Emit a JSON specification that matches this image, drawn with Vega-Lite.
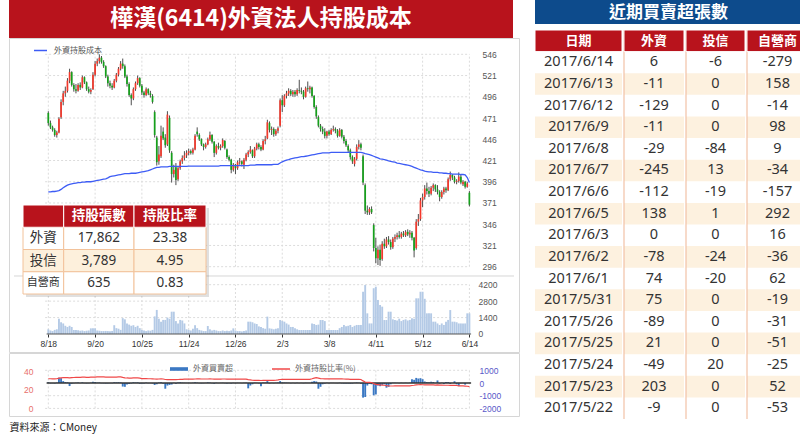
{
"$schema": "https://vega.github.io/schema/vega-lite/v6.json",
"background": "white",
"padding": {"left": 8, "top": 0, "right": 0, "bottom": 0},
"config": {"view": {"stroke": null}, "font": "Noto Sans CJK TC", "axis": {"minExtent": 0, "labelOverlap": false, "labelSeparation": 0}},
"datasets": {
"pg": [{"p":296},{"p":321},{"p":346},{"p":371},{"p":396},{"p":421},{"p":446},{"p":471},{"p":496},{"p":521},{"p":546}],
"dg": [{"i":0,"lab":"8/18"},{"i":22,"lab":"9/20"},{"i":44,"lab":"10/25"},{"i":66,"lab":"11/24"},{"i":88,"lab":"12/26"},{"i":110,"lab":"2/3"},{"i":132,"lab":"3/8"},{"i":154,"lab":"4/11"},{"i":176,"lab":"5/12"},{"i":198,"lab":"6/14"}],
"vg": [{"v":1400},{"v":2800},{"v":4200}],
"ng": [{"n":1000},{"n":-1000},{"n":-2000}],
"ins": [{"k":"外資","n":"17,862","p":"23.38"},{"k":"投信","n":"3,789","p":"4.95"},{"k":"自營商","n":"635","p":"0.83"}],
"ih": [{"k":"H","n":"持股張數","p":"持股比率"}],
"th": [{"row":"H","c0":"日期","c1":"外資","c2":"投信","c3":"自營商"}],
"tb": [
{"date":"2017/6/14","fi":6,"it":-6,"dl":-279},
{"date":"2017/6/13","fi":-11,"it":0,"dl":158},
{"date":"2017/6/12","fi":-129,"it":0,"dl":-14},
{"date":"2017/6/9","fi":-11,"it":0,"dl":98},
{"date":"2017/6/8","fi":-29,"it":-84,"dl":9},
{"date":"2017/6/7","fi":-245,"it":13,"dl":-34},
{"date":"2017/6/6","fi":-112,"it":-19,"dl":-157},
{"date":"2017/6/5","fi":138,"it":1,"dl":292},
{"date":"2017/6/3","fi":0,"it":0,"dl":16},
{"date":"2017/6/2","fi":-78,"it":-24,"dl":-36},
{"date":"2017/6/1","fi":74,"it":-20,"dl":62},
{"date":"2017/5/31","fi":75,"it":0,"dl":-19},
{"date":"2017/5/26","fi":-89,"it":0,"dl":-31},
{"date":"2017/5/25","fi":21,"it":0,"dl":-51},
{"date":"2017/5/24","fi":-49,"it":20,"dl":-25},
{"date":"2017/5/23","fi":203,"it":0,"dl":52},
{"date":"2017/5/22","fi":-9,"it":0,"dl":-53}
],
"px": [
{"i":0,"d":"8/18","o":477,"h":479,"l":462,"c":465,"v":400,"f":60,"r":31.8,"m":384},
{"i":1,"d":"8/19","o":465,"h":468,"l":458,"c":460,"v":300,"f":-30,"r":31.8,"m":384},
{"i":2,"d":"8/22","o":460,"h":462,"l":455,"c":457,"v":250,"f":-20,"r":31.7,"m":384.5},
{"i":3,"d":"8/23","o":457,"h":459,"l":449,"c":451,"v":350,"f":-40,"r":31.7,"m":384.5},
{"i":4,"d":"8/24","o":451,"h":456,"l":448,"c":454,"v":400,"f":30,"r":31.8,"m":385},
{"i":5,"d":"8/25","o":454,"h":472,"l":453,"c":470,"v":1300,"f":420,"r":32.4,"m":385.5},
{"i":6,"d":"8/26","o":472,"h":493,"l":470,"c":490,"v":1000,"f":380,"r":32.8,"m":387},
{"i":7,"d":"8/29","o":490,"h":503,"l":486,"c":500,"v":900,"f":150,"r":32.9,"m":389},
{"i":8,"d":"8/30","o":500,"h":508,"l":496,"c":503,"v":700,"f":80,"r":33,"m":390.5},
{"i":9,"d":"8/31","o":503,"h":518,"l":501,"c":515,"v":600,"f":60,"r":33,"m":392},
{"i":10,"d":"9/1","o":515,"h":529,"l":512,"c":525,"v":700,"f":-240,"r":32.7,"m":393},
{"i":11,"d":"9/2","o":525,"h":526,"l":508,"c":510,"v":600,"f":-60,"r":33,"m":393.5},
{"i":12,"d":"9/5","o":510,"h":512,"l":502,"c":505,"v":350,"f":-20,"r":33.1,"m":394},
{"i":13,"d":"9/6","o":505,"h":511,"l":500,"c":503,"v":350,"f":10,"r":33.2,"m":394.5},
{"i":14,"d":"9/7","o":503,"h":512,"l":502,"c":510,"v":320,"f":40,"r":33.3,"m":395},
{"i":15,"d":"9/8","o":510,"h":513,"l":504,"c":507,"v":280,"f":-10,"r":33.3,"m":395},
{"i":16,"d":"9/9","o":507,"h":521,"l":506,"c":519,"v":300,"f":50,"r":33.4,"m":395.5},
{"i":17,"d":"9/10","o":519,"h":520,"l":511,"c":513,"v":250,"f":-15,"r":33.4,"m":395.5},
{"i":18,"d":"9/12","o":513,"h":514,"l":503,"c":505,"v":280,"f":-30,"r":33.3,"m":396},
{"i":19,"d":"9/13","o":505,"h":508,"l":500,"c":502,"v":300,"f":-20,"r":33.3,"m":396},
{"i":20,"d":"9/14","o":502,"h":506,"l":499,"c":504,"v":480,"f":20,"r":33.4,"m":396},
{"i":21,"d":"9/19","o":505,"h":525,"l":504,"c":522,"v":480,"f":90,"r":33.5,"m":396.5},
{"i":22,"d":"9/20","o":522,"h":538,"l":520,"c":535,"v":480,"f":80,"r":33.6,"m":397},
{"i":23,"d":"9/21","o":535,"h":541,"l":532,"c":538,"v":300,"f":30,"r":33.7,"m":397.5},
{"i":24,"d":"9/22","o":538,"h":546,"l":535,"c":542,"v":280,"f":40,"r":33.8,"m":398},
{"i":25,"d":"9/23","o":542,"h":544,"l":535,"c":537,"v":250,"f":-20,"r":33.7,"m":398.5},
{"i":26,"d":"9/26","o":537,"h":539,"l":530,"c":532,"v":250,"f":-25,"r":33.7,"m":399},
{"i":27,"d":"9/29","o":532,"h":533,"l":518,"c":520,"v":260,"f":-40,"r":33.6,"m":399.5},
{"i":28,"d":"9/30","o":520,"h":522,"l":508,"c":512,"v":250,"f":-30,"r":33.5,"m":400.5},
{"i":29,"d":"10/3","o":512,"h":515,"l":506,"c":509,"v":240,"f":-10,"r":33.5,"m":402},
{"i":30,"d":"10/4","o":509,"h":512,"l":504,"c":507,"v":260,"f":-20,"r":33.4,"m":402.5},
{"i":31,"d":"10/5","o":507,"h":517,"l":506,"c":515,"v":750,"f":60,"r":33.5,"m":403},
{"i":32,"d":"10/6","o":515,"h":524,"l":513,"c":522,"v":500,"f":50,"r":33.6,"m":403.5},
{"i":33,"d":"10/7","o":522,"h":531,"l":520,"c":529,"v":450,"f":60,"r":33.7,"m":404},
{"i":34,"d":"10/11","o":529,"h":538,"l":527,"c":535,"v":350,"f":40,"r":33.8,"m":404.5},
{"i":35,"d":"10/12","o":535,"h":541,"l":529,"c":532,"v":1350,"f":-280,"r":33.2,"m":405},
{"i":36,"d":"10/13","o":532,"h":534,"l":518,"c":520,"v":1250,"f":-300,"r":32.8,"m":405.5},
{"i":37,"d":"10/14","o":520,"h":522,"l":508,"c":511,"v":900,"f":-120,"r":32.6,"m":405.5},
{"i":38,"d":"10/17","o":511,"h":513,"l":496,"c":498,"v":800,"f":-80,"r":32.5,"m":405.5},
{"i":39,"d":"10/18","o":498,"h":500,"l":486,"c":494,"v":700,"f":-40,"r":32.5,"m":406},
{"i":40,"d":"10/19","o":494,"h":507,"l":492,"c":505,"v":750,"f":60,"r":32.6,"m":406},
{"i":41,"d":"10/20","o":505,"h":514,"l":503,"c":512,"v":600,"f":40,"r":32.6,"m":406},
{"i":42,"d":"10/21","o":512,"h":521,"l":510,"c":518,"v":700,"f":50,"r":32.7,"m":406.5},
{"i":43,"d":"10/24","o":518,"h":519,"l":507,"c":509,"v":500,"f":-60,"r":32.5,"m":407},
{"i":44,"d":"10/25","o":509,"h":511,"l":498,"c":501,"v":350,"f":-40,"r":32,"m":407.5},
{"i":45,"d":"10/26","o":501,"h":503,"l":495,"c":498,"v":300,"f":-30,"r":31.9,"m":408},
{"i":46,"d":"10/27","o":498,"h":507,"l":497,"c":505,"v":250,"f":30,"r":31.9,"m":408.5},
{"i":47,"d":"10/28","o":505,"h":506,"l":498,"c":500,"v":300,"f":-20,"r":31.8,"m":409},
{"i":48,"d":"10/31","o":500,"h":503,"l":495,"c":498,"v":280,"f":-15,"r":31.8,"m":410},
{"i":49,"d":"11/1","o":497,"h":499,"l":488,"c":490,"v":350,"f":-40,"r":31.7,"m":411},
{"i":50,"d":"11/2","o":478,"h":480,"l":448,"c":451,"v":1500,"f":-150,"r":31.5,"m":412},
{"i":51,"d":"11/3","o":448,"h":450,"l":415,"c":419,"v":2050,"f":-100,"r":31.4,"m":413},
{"i":52,"d":"11/4","o":420,"h":438,"l":416,"c":428,"v":1300,"f":40,"r":31.5,"m":413},
{"i":53,"d":"11/7","o":426,"h":462,"l":424,"c":450,"v":1050,"f":60,"r":31.6,"m":413.5},
{"i":54,"d":"11/8","o":455,"h":460,"l":445,"c":447,"v":1200,"f":-50,"r":31.5,"m":413.5},
{"i":55,"d":"11/9","o":448,"h":452,"l":436,"c":439,"v":1200,"f":-450,"r":31,"m":413.5},
{"i":56,"d":"11/10","o":440,"h":479,"l":438,"c":475,"v":1400,"f":-200,"r":30.9,"m":413.5},
{"i":57,"d":"11/11","o":471,"h":474,"l":430,"c":433,"v":1300,"f":-150,"r":30.8,"m":414},
{"i":58,"d":"11/14","o":430,"h":432,"l":395,"c":405,"v":1900,"f":-120,"r":30.8,"m":414},
{"i":59,"d":"11/15","o":405,"h":416,"l":401,"c":410,"v":1900,"f":20,"r":30.9,"m":414},
{"i":60,"d":"11/16","o":413,"h":418,"l":392,"c":398,"v":1100,"f":-60,"r":30.9,"m":414},
{"i":61,"d":"11/17","o":399,"h":414,"l":397,"c":412,"v":900,"f":30,"r":31,"m":414},
{"i":62,"d":"11/18","o":412,"h":422,"l":410,"c":420,"v":1200,"f":60,"r":31.1,"m":414},
{"i":63,"d":"11/21","o":420,"h":427,"l":417,"c":424,"v":1150,"f":30,"r":31.2,"m":414},
{"i":64,"d":"11/22","o":424,"h":432,"l":421,"c":427,"v":900,"f":20,"r":31.3,"m":414},
{"i":65,"d":"11/23","o":427,"h":433,"l":424,"c":430,"v":400,"f":10,"r":31.3,"m":414},
{"i":66,"d":"11/24","o":430,"h":435,"l":427,"c":432,"v":350,"f":15,"r":31.4,"m":414.5},
{"i":67,"d":"11/25","o":432,"h":434,"l":428,"c":430,"v":300,"f":-10,"r":31.4,"m":414.5},
{"i":68,"d":"11/28","o":430,"h":436,"l":428,"c":434,"v":450,"f":20,"r":31.4,"m":414.5},
{"i":69,"d":"11/29","o":434,"h":452,"l":433,"c":450,"v":750,"f":60,"r":31.5,"m":414.5},
{"i":70,"d":"11/30","o":455,"h":460,"l":449,"c":452,"v":500,"f":30,"r":31.6,"m":414.5},
{"i":71,"d":"12/1","o":451,"h":453,"l":444,"c":446,"v":350,"f":-20,"r":31.6,"m":414.5},
{"i":72,"d":"12/2","o":446,"h":447,"l":438,"c":440,"v":300,"f":-30,"r":31.5,"m":414.5},
{"i":73,"d":"12/5","o":440,"h":441,"l":433,"c":437,"v":250,"f":-20,"r":31.5,"m":414.5},
{"i":74,"d":"12/6","o":437,"h":442,"l":435,"c":440,"v":250,"f":10,"r":31.5,"m":414.5},
{"i":75,"d":"12/7","o":440,"h":448,"l":439,"c":446,"v":680,"f":50,"r":31.5,"m":414.5},
{"i":76,"d":"12/8","o":446,"h":455,"l":444,"c":451,"v":400,"f":30,"r":31.6,"m":414.5},
{"i":77,"d":"12/9","o":451,"h":452,"l":441,"c":443,"v":300,"f":-20,"r":31.5,"m":414.5},
{"i":78,"d":"12/12","o":443,"h":444,"l":425,"c":430,"v":350,"f":-60,"r":31.4,"m":414.5},
{"i":79,"d":"12/13","o":430,"h":440,"l":428,"c":438,"v":300,"f":20,"r":31.4,"m":414.5},
{"i":80,"d":"12/14","o":438,"h":442,"l":434,"c":436,"v":250,"f":-10,"r":31.4,"m":414.5},
{"i":81,"d":"12/15","o":436,"h":440,"l":433,"c":438,"v":250,"f":10,"r":31.4,"m":415},
{"i":82,"d":"12/16","o":438,"h":447,"l":436,"c":445,"v":300,"f":20,"r":31.5,"m":415},
{"i":83,"d":"12/19","o":444,"h":445,"l":434,"c":436,"v":250,"f":-20,"r":31.5,"m":415},
{"i":84,"d":"12/20","o":434,"h":435,"l":423,"c":425,"v":280,"f":-30,"r":31.4,"m":415},
{"i":85,"d":"12/21","o":425,"h":427,"l":420,"c":422,"v":250,"f":-20,"r":31.4,"m":415},
{"i":86,"d":"12/22","o":422,"h":423,"l":406,"c":410,"v":300,"f":-40,"r":31.3,"m":415},
{"i":87,"d":"12/23","o":410,"h":418,"l":408,"c":416,"v":480,"f":20,"r":31.3,"m":415},
{"i":88,"d":"12/26","o":416,"h":417,"l":405,"c":412,"v":300,"f":-20,"r":31.3,"m":415},
{"i":89,"d":"12/27","o":412,"h":421,"l":410,"c":419,"v":250,"f":20,"r":31.3,"m":415},
{"i":90,"d":"12/28","o":419,"h":424,"l":416,"c":420,"v":250,"f":10,"r":31.3,"m":415},
{"i":91,"d":"12/29","o":420,"h":421,"l":414,"c":417,"v":220,"f":-10,"r":31.3,"m":415},
{"i":92,"d":"12/30","o":416,"h":424,"l":411,"c":422,"v":250,"f":20,"r":31.3,"m":415},
{"i":93,"d":"1/3","o":422,"h":430,"l":420,"c":428,"v":300,"f":30,"r":31.4,"m":415},
{"i":94,"d":"1/4","o":428,"h":433,"l":425,"c":431,"v":1050,"f":-420,"r":30.8,"m":415},
{"i":95,"d":"1/5","o":431,"h":438,"l":429,"c":434,"v":1050,"f":-200,"r":30.5,"m":415.5},
{"i":96,"d":"1/6","o":433,"h":434,"l":424,"c":426,"v":1000,"f":-100,"r":30.2,"m":415.5},
{"i":97,"d":"1/9","o":426,"h":437,"l":424,"c":435,"v":900,"f":30,"r":30.1,"m":415.5},
{"i":98,"d":"1/10","o":435,"h":442,"l":433,"c":440,"v":850,"f":20,"r":30.1,"m":416},
{"i":99,"d":"1/11","o":440,"h":442,"l":434,"c":437,"v":650,"f":-30,"r":30,"m":416},
{"i":100,"d":"1/12","o":437,"h":439,"l":432,"c":434,"v":600,"f":-250,"r":29.9,"m":416},
{"i":101,"d":"1/13","o":434,"h":446,"l":433,"c":444,"v":500,"f":40,"r":30,"m":416},
{"i":102,"d":"1/16","o":444,"h":450,"l":440,"c":446,"v":450,"f":30,"r":30,"m":416},
{"i":103,"d":"1/17","o":447,"h":469,"l":446,"c":466,"v":1480,"f":150,"r":30.1,"m":416},
{"i":104,"d":"1/18","o":465,"h":467,"l":454,"c":457,"v":480,"f":-40,"r":30,"m":416},
{"i":105,"d":"1/19","o":457,"h":461,"l":451,"c":458,"v":450,"f":10,"r":30,"m":416},
{"i":106,"d":"1/20","o":458,"h":460,"l":449,"c":452,"v":400,"f":-20,"r":30,"m":416.5},
{"i":107,"d":"1/23","o":452,"h":458,"l":450,"c":456,"v":450,"f":20,"r":30.2,"m":416.5},
{"i":108,"d":"1/24","o":456,"h":461,"l":453,"c":459,"v":480,"f":30,"r":30.5,"m":416.5},
{"i":109,"d":"2/2","o":462,"h":494,"l":460,"c":492,"v":1190,"f":150,"r":31,"m":418},
{"i":110,"d":"2/3","o":492,"h":498,"l":478,"c":486,"v":1100,"f":50,"r":31.1,"m":419.5},
{"i":111,"d":"2/6","o":486,"h":499,"l":484,"c":497,"v":1050,"f":40,"r":31.1,"m":420.5},
{"i":112,"d":"2/7","o":497,"h":503,"l":494,"c":500,"v":900,"f":30,"r":31.1,"m":421.5},
{"i":113,"d":"2/8","o":500,"h":506,"l":497,"c":503,"v":800,"f":20,"r":31.1,"m":422},
{"i":114,"d":"2/9","o":503,"h":505,"l":497,"c":499,"v":600,"f":-20,"r":31.1,"m":423},
{"i":115,"d":"2/10","o":499,"h":504,"l":496,"c":502,"v":600,"f":10,"r":31.1,"m":423.5},
{"i":116,"d":"2/13","o":502,"h":504,"l":496,"c":499,"v":500,"f":-10,"r":31.1,"m":424},
{"i":117,"d":"2/14","o":499,"h":506,"l":497,"c":504,"v":400,"f":20,"r":31.1,"m":424.5},
{"i":118,"d":"2/15","o":504,"h":516,"l":500,"c":503,"v":340,"f":-10,"r":31.1,"m":425},
{"i":119,"d":"2/16","o":503,"h":507,"l":499,"c":502,"v":340,"f":10,"r":31.1,"m":425.5},
{"i":120,"d":"2/17","o":502,"h":504,"l":493,"c":496,"v":340,"f":-20,"r":31.1,"m":425.5},
{"i":121,"d":"2/18","o":496,"h":508,"l":495,"c":506,"v":340,"f":20,"r":31.1,"m":426},
{"i":122,"d":"2/20","o":506,"h":514,"l":502,"c":505,"v":340,"f":10,"r":31.1,"m":426.5},
{"i":123,"d":"2/21","o":505,"h":509,"l":500,"c":507,"v":340,"f":10,"r":31.2,"m":427},
{"i":124,"d":"2/22","o":507,"h":508,"l":495,"c":497,"v":900,"f":100,"r":31.8,"m":427.5},
{"i":125,"d":"2/23","o":497,"h":498,"l":482,"c":484,"v":850,"f":150,"r":32.5,"m":428},
{"i":126,"d":"2/24","o":484,"h":486,"l":470,"c":473,"v":770,"f":120,"r":32.9,"m":428.5},
{"i":127,"d":"3/1","o":472,"h":474,"l":460,"c":462,"v":800,"f":-450,"r":32.5,"m":429},
{"i":128,"d":"3/2","o":462,"h":464,"l":455,"c":458,"v":1190,"f":-300,"r":32,"m":429.5},
{"i":129,"d":"3/3","o":458,"h":461,"l":452,"c":455,"v":1190,"f":-100,"r":31.8,"m":430},
{"i":130,"d":"3/6","o":455,"h":459,"l":447,"c":450,"v":1100,"f":-50,"r":31.7,"m":430},
{"i":131,"d":"3/7","o":450,"h":456,"l":447,"c":455,"v":340,"f":20,"r":31.7,"m":430},
{"i":132,"d":"3/8","o":455,"h":457,"l":450,"c":452,"v":340,"f":-10,"r":31.7,"m":430},
{"i":133,"d":"3/9","o":452,"h":459,"l":451,"c":457,"v":340,"f":10,"r":31.7,"m":430.5},
{"i":134,"d":"3/10","o":457,"h":462,"l":455,"c":458,"v":340,"f":10,"r":31.7,"m":430.5},
{"i":135,"d":"3/13","o":458,"h":460,"l":453,"c":456,"v":340,"f":-10,"r":31.7,"m":430.5},
{"i":136,"d":"3/14","o":456,"h":458,"l":448,"c":450,"v":340,"f":-20,"r":31.6,"m":430.5},
{"i":137,"d":"3/15","o":450,"h":459,"l":449,"c":457,"v":500,"f":20,"r":31.6,"m":430.5},
{"i":138,"d":"3/16","o":457,"h":458,"l":447,"c":449,"v":600,"f":-30,"r":31.6,"m":430.5},
{"i":139,"d":"3/17","o":449,"h":451,"l":441,"c":444,"v":770,"f":-40,"r":31.5,"m":430.5},
{"i":140,"d":"3/20","o":444,"h":446,"l":437,"c":439,"v":650,"f":-30,"r":31.4,"m":430.5},
{"i":141,"d":"3/21","o":438,"h":440,"l":430,"c":433,"v":700,"f":-40,"r":31.3,"m":430.5},
{"i":142,"d":"3/22","o":433,"h":435,"l":422,"c":425,"v":770,"f":-50,"r":31.2,"m":430.5},
{"i":143,"d":"3/23","o":425,"h":427,"l":417,"c":420,"v":600,"f":-40,"r":31.1,"m":430.5},
{"i":144,"d":"3/24","o":417,"h":425,"l":414,"c":423,"v":700,"f":20,"r":31.1,"m":430.5},
{"i":145,"d":"3/27","o":423,"h":440,"l":421,"c":437,"v":770,"f":40,"r":31.2,"m":430.5},
{"i":146,"d":"3/28","o":437,"h":445,"l":434,"c":440,"v":770,"f":20,"r":31.2,"m":430.5},
{"i":147,"d":"3/29","o":440,"h":442,"l":433,"c":436,"v":770,"f":-60,"r":31,"m":430.5},
{"i":148,"d":"3/30","o":426,"h":428,"l":392,"c":395,"v":3600,"f":-1150,"r":29.5,"m":430},
{"i":149,"d":"3/31","o":392,"h":394,"l":358,"c":362,"v":4170,"f":-1100,"r":28.3,"m":429},
{"i":150,"d":"4/5","o":362,"h":368,"l":357,"c":360,"v":1760,"f":-200,"r":28,"m":428.5},
{"i":151,"d":"4/6","o":360,"h":366,"l":357,"c":364,"v":900,"f":-50,"r":28,"m":428},
{"i":152,"d":"4/7","o":364,"h":367,"l":358,"c":360,"v":900,"f":-100,"r":27.8,"m":427},
{"i":153,"d":"4/10","o":345,"h":347,"l":314,"c":318,"v":3900,"f":-970,"r":26.6,"m":426},
{"i":154,"d":"4/11","o":318,"h":330,"l":300,"c":306,"v":4030,"f":-900,"r":25.8,"m":425},
{"i":155,"d":"4/12","o":306,"h":320,"l":298,"c":316,"v":2900,"f":-200,"r":25.6,"m":424},
{"i":156,"d":"4/13","o":316,"h":322,"l":297,"c":304,"v":2470,"f":-250,"r":25.3,"m":423},
{"i":157,"d":"4/14","o":305,"h":326,"l":303,"c":323,"v":2330,"f":-150,"r":25.1,"m":422.5},
{"i":158,"d":"4/17","o":323,"h":329,"l":317,"c":320,"v":1190,"f":-100,"r":24.9,"m":422},
{"i":159,"d":"4/18","o":320,"h":331,"l":318,"c":328,"v":1190,"f":-370,"r":24.5,"m":421.5},
{"i":160,"d":"4/19","o":328,"h":332,"l":322,"c":325,"v":1900,"f":-300,"r":24.2,"m":420.5},
{"i":161,"d":"4/20","o":325,"h":328,"l":316,"c":319,"v":1900,"f":-100,"r":24.1,"m":420},
{"i":162,"d":"4/21","o":319,"h":331,"l":317,"c":329,"v":1250,"f":20,"r":24.1,"m":419.5},
{"i":163,"d":"4/24","o":329,"h":334,"l":325,"c":331,"v":1200,"f":20,"r":24.2,"m":419},
{"i":164,"d":"4/25","o":331,"h":336,"l":328,"c":333,"v":1150,"f":10,"r":24.2,"m":418},
{"i":165,"d":"4/26","o":333,"h":338,"l":329,"c":331,"v":1300,"f":-20,"r":24.2,"m":417.5},
{"i":166,"d":"4/27","o":331,"h":337,"l":329,"c":335,"v":1100,"f":20,"r":24.2,"m":417},
{"i":167,"d":"4/28","o":335,"h":338,"l":331,"c":333,"v":1200,"f":-10,"r":24.2,"m":416.5},
{"i":168,"d":"5/2","o":333,"h":339,"l":331,"c":337,"v":1250,"f":20,"r":24.2,"m":416},
{"i":169,"d":"5/3","o":337,"h":340,"l":332,"c":334,"v":1150,"f":-10,"r":24.2,"m":415.5},
{"i":170,"d":"5/4","o":334,"h":339,"l":330,"c":336,"v":1200,"f":20,"r":24.3,"m":415},
{"i":171,"d":"5/5","o":336,"h":338,"l":327,"c":330,"v":1340,"f":300,"r":24.6,"m":414},
{"i":172,"d":"5/8","o":330,"h":331,"l":307,"c":315,"v":1300,"f":250,"r":24.9,"m":413},
{"i":173,"d":"5/9","o":318,"h":352,"l":316,"c":349,"v":3040,"f":400,"r":25.3,"m":412},
{"i":174,"d":"5/10","o":349,"h":358,"l":344,"c":352,"v":3040,"f":350,"r":25.4,"m":411},
{"i":175,"d":"5/11","o":352,"h":377,"l":350,"c":374,"v":3600,"f":380,"r":25.5,"m":410},
{"i":176,"d":"5/12","o":374,"h":382,"l":366,"c":378,"v":3600,"f":300,"r":25.4,"m":409.5},
{"i":177,"d":"5/15","o":378,"h":392,"l":375,"c":388,"v":3000,"f":120,"r":25.3,"m":408.5},
{"i":178,"d":"5/16","o":388,"h":395,"l":381,"c":385,"v":1760,"f":80,"r":25.2,"m":408},
{"i":179,"d":"5/17","o":385,"h":390,"l":378,"c":382,"v":1760,"f":60,"r":25.2,"m":407.5},
{"i":180,"d":"5/18","o":382,"h":391,"l":380,"c":389,"v":1760,"f":100,"r":25.2,"m":407.5},
{"i":181,"d":"5/19","o":389,"h":394,"l":385,"c":392,"v":1050,"f":80,"r":25.2,"m":407},
{"i":182,"d":"5/22","o":392,"h":393,"l":384,"c":387,"v":1050,"f":-9,"r":25.1,"m":407},
{"i":183,"d":"5/23","o":387,"h":392,"l":381,"c":384,"v":900,"f":203,"r":25.2,"m":407},
{"i":184,"d":"5/24","o":384,"h":386,"l":373,"c":378,"v":770,"f":-49,"r":25,"m":406.5},
{"i":185,"d":"5/25","o":378,"h":386,"l":376,"c":384,"v":900,"f":21,"r":25,"m":406.5},
{"i":186,"d":"5/26","o":384,"h":390,"l":381,"c":388,"v":770,"f":-89,"r":24.9,"m":406},
{"i":187,"d":"5/31","o":388,"h":390,"l":383,"c":386,"v":1050,"f":75,"r":24.9,"m":406},
{"i":188,"d":"6/1","o":386,"h":401,"l":385,"c":399,"v":1200,"f":74,"r":24.9,"m":405.5},
{"i":189,"d":"6/2","o":399,"h":408,"l":397,"c":404,"v":2040,"f":-78,"r":24.8,"m":405.5},
{"i":190,"d":"6/3","o":404,"h":405,"l":398,"c":401,"v":1050,"f":0,"r":24.8,"m":405},
{"i":191,"d":"6/5","o":401,"h":403,"l":394,"c":396,"v":1050,"f":138,"r":24.8,"m":405},
{"i":192,"d":"6/6","o":396,"h":399,"l":393,"c":397,"v":1000,"f":-112,"r":24.6,"m":405},
{"i":193,"d":"6/7","o":397,"h":407,"l":395,"c":402,"v":900,"f":-245,"r":24.3,"m":405},
{"i":194,"d":"6/8","o":402,"h":404,"l":393,"c":395,"v":900,"f":-29,"r":24.2,"m":404.5},
{"i":195,"d":"6/9","o":393,"h":398,"l":391,"c":396,"v":900,"f":-11,"r":24.2,"m":404.5},
{"i":196,"d":"6/12","o":396,"h":397,"l":388,"c":390,"v":900,"f":-129,"r":24,"m":404},
{"i":197,"d":"6/13","o":390,"h":396,"l":389,"c":394,"v":1760,"f":-11,"r":23.8,"m":401},
{"i":198,"d":"6/14","o":383,"h":385,"l":367,"c":369,"v":1760,"f":6,"r":23.4,"m":395}
]
},
"spacing": 14,
"hconcat": [
{
"spacing": -1,
"resolve": {"scale": {"stroke": "independent", "color": "independent"}},
"vconcat": [
{
"width": 504, "height": 38,
"view": {"fill": "#b8131c"},
"data": {"values": [{"t": "樺漢(6414)外資法人持股成本"}]},
"mark": {"type": "text", "color": "white", "fontSize": 23, "fontWeight": "bold", "font": "Noto Sans CJK TC"},
"encoding": {"text": {"field": "t", "type": "nominal"}}
},
{
"width": 510, "height": 314,
"view": {"fill": "white", "stroke": "#d6d6d6"},
"resolve": {"scale": {"x": "independent", "y": "independent"}},
"layer": [
{"layer": [
 {"data": {"name": "pg"}, "mark": {"type": "rule", "color": "#dcdcdc", "strokeDash": [2, 2]},
  "encoding": {
   "x": {"datum": -1.5, "type": "quantitative", "scale": {"domain": [-16.135, 218.975], "nice": false, "zero": false}, "axis": null},
   "x2": {"datum": 198},
   "y": {"field": "p", "type": "quantitative", "scale": {"domain": [195.6, 565.19], "nice": false, "zero": false}}}},
 {"data": {"name": "dg"}, "mark": {"type": "rule", "color": "#dcdcdc", "strokeDash": [2, 2]},
  "encoding": {
   "x": {"field": "i", "type": "quantitative", "axis": null},
   "y": {"datum": 296, "type": "quantitative"},
   "y2": {"datum": 546}}},
 {"data": {"name": "px"}, "mark": {"type": "rule", "color": "#4d4d4d", "strokeWidth": 1},
  "encoding": {
   "x": {"field": "i", "type": "quantitative", "axis": null},
   "y": {"field": "l", "type": "quantitative"},
   "y2": {"field": "h"}}},
 {"data": {"name": "px"}, "mark": {"type": "bar", "width": 1.7},
  "encoding": {
   "x": {"field": "i", "type": "quantitative", "axis": null},
   "y": {"field": "o", "type": "quantitative",
         "axis": {"orient": "right", "offset": -38, "values": [296,321,346,371,396,421,446,471,496,521,546], "tickCount": 30, "labelExpr": "'' + datum.value", "labelOverlap": false, "title": null, "labelColor": "#555", "labelFontSize": 8.5, "labelFont": "Liberation Sans", "labelPadding": 1, "ticks": false, "domain": false, "grid": false, "minExtent": 0}},
   "y2": {"field": "c"},
   "color": {"condition": {"test": "datum.c >= datum.o", "value": "#f4382b"}, "value": "#15a11b"}}},
 {"data": {"name": "px"}, "mark": {"type": "line", "strokeWidth": 1.3},
  "encoding": {
   "x": {"field": "i", "type": "quantitative", "axis": null},
   "y": {"field": "m", "type": "quantitative"},
   "stroke": {"datum": "外資持股成本", "scale": {"range": ["#3d5cf5"]},
     "legend": {"orient": "none", "legendX": 24, "legendY": 5, "title": null, "symbolType": "stroke", "symbolSize": 170, "symbolStrokeWidth": 1.5, "labelFontSize": 8, "labelColor": "#555", "labelFont": "Noto Sans CJK TC", "labelOffset": 6}}}}
]},
{"layer": [
 {"data": {"values": [{}]}, "mark": {"type": "rule", "color": "#d6d6d6", "strokeWidth": 1},
  "encoding": {
   "x": {"datum": -16.135, "type": "quantitative", "scale": {"domain": [-16.135, 218.975], "nice": false, "zero": false}},
   "x2": {"datum": 218.975},
   "y": {"datum": 4941.2, "type": "quantitative", "scale": {"domain": [-1533.5, 25217.2], "nice": false, "zero": false}}}},
 {"data": {"name": "vg"}, "mark": {"type": "rule", "color": "#dcdcdc", "strokeDash": [2, 2]},
  "encoding": {
   "x": {"datum": -1.5, "type": "quantitative"},
   "x2": {"datum": 198},
   "y": {"field": "v", "type": "quantitative"}}},
 {"data": {"name": "dg"}, "mark": {"type": "rule", "color": "#dcdcdc", "strokeDash": [2, 2]},
  "encoding": {
   "x": {"field": "i", "type": "quantitative"},
   "y": {"datum": 0, "type": "quantitative"},
   "y2": {"datum": 4200}}},
 {"data": {"name": "px"}, "mark": {"type": "bar", "width": 1.9, "color": "#b4cae6"},
  "encoding": {
   "x": {"field": "i", "type": "quantitative",
         "axis": {"orient": "bottom", "offset": -18, "values": [0,22,44,66,88,110,132,154,176,198], "tickCount": 30, "labelExpr": "['8/18','9/20','10/25','11/24','12/26','2/3','3/8','4/11','5/12','6/14'][round(datum.value/22)]", "title": null, "labelColor": "#333", "labelFontSize": 8.5, "labelFont": "Liberation Sans", "labelPadding": 2, "ticks": true, "tickSize": 3, "tickColor": "#333", "domain": false, "grid": false, "labelFlush": false, "labelOverlap": false, "minExtent": 0}},
   "y": {"field": "v", "type": "quantitative",
         "axis": {"orient": "right", "offset": -42, "values": [0,1400,2800,4200], "tickCount": 30, "labelExpr": "'' + datum.value", "labelOverlap": false, "title": null, "labelColor": "#555", "labelFontSize": 8.5, "labelFont": "Liberation Sans", "labelPadding": 1, "ticks": false, "domain": false, "grid": false, "minExtent": 0}},
   "y2": {"datum": 0}}},
 {"data": {"values": [{}]}, "mark": {"type": "rule", "color": "#555", "strokeWidth": 1.2},
  "encoding": {
   "x": {"datum": -0.8, "type": "quantitative"},
   "x2": {"datum": 198.8},
   "y": {"datum": 0, "type": "quantitative"}}}
]},
{"data": {"values": [{}]}, "mark": {"type": "rect", "color": "#000", "opacity": 0.12},
 "encoding": {
  "x": {"datum": "s", "type": "nominal", "scale": {"type": "band", "domain": ["s"], "range": [17, 200], "paddingInner": 0, "paddingOuter": 0}, "axis": null},
  "y": {"datum": "s", "type": "nominal", "scale": {"type": "band", "domain": ["s"], "range": [170, 259], "paddingInner": 0, "paddingOuter": 0}, "axis": null}}},
{"layer": [
 {"data": {"name": "ins"}, "mark": {"type": "rect", "stroke": "#f2c29a", "strokeWidth": 1},
  "encoding": {
   "x": {"datum": "c0", "type": "nominal", "scale": {"type": "band", "domain": ["c0"], "range": [14, 54.7], "paddingInner": 0, "paddingOuter": 0}, "axis": null},
   "y": {"field": "k", "type": "nominal", "scale": {"type": "band", "domain": ["H","外資","投信","自營商"], "range": [167, 256], "paddingInner": 0, "paddingOuter": 0}, "axis": null},
   "fill": {"condition": {"test": "datum.k == '投信'", "value": "#fdf0dc"}, "value": "white"}}},
 {"data": {"name": "ih"}, "mark": {"type": "rect", "color": "#b8131c", "stroke": "white", "strokeWidth": 1},
  "encoding": {"x": {"datum": "c0", "type": "nominal", "axis": null}, "y": {"field": "k", "type": "nominal", "axis": null}}},
 {"data": {"name": "ins"}, "mark": {"type": "text", "color": "#333", "font": "Noto Sans CJK TC"},
  "encoding": {"x": {"datum": "c0", "type": "nominal", "axis": null}, "y": {"field": "k", "type": "nominal", "axis": null}, "text": {"field": "k", "type": "nominal"},
   "size": {"condition": {"test": "datum.k == '自營商'", "value": 11}, "value": 13.5}}}
]},
{"layer": [
 {"data": {"name": "ins"}, "mark": {"type": "rect", "stroke": "#f2c29a", "strokeWidth": 1},
  "encoding": {
   "x": {"datum": "c1", "type": "nominal", "scale": {"type": "band", "domain": ["c1"], "range": [54.7, 125], "paddingInner": 0, "paddingOuter": 0}, "axis": null},
   "y": {"field": "k", "type": "nominal", "scale": {"type": "band", "domain": ["H","外資","投信","自營商"], "range": [167, 256], "paddingInner": 0, "paddingOuter": 0}, "axis": null},
   "fill": {"condition": {"test": "datum.k == '投信'", "value": "#fdf0dc"}, "value": "white"}}},
 {"data": {"name": "ih"}, "mark": {"type": "rect", "color": "#b8131c", "stroke": "white", "strokeWidth": 1},
  "encoding": {"x": {"datum": "c1", "type": "nominal", "axis": null}, "y": {"field": "k", "type": "nominal", "axis": null}}},
 {"data": {"name": "ih"}, "mark": {"type": "text", "color": "white", "fontSize": 13.5, "fontWeight": "bold", "font": "Noto Sans CJK TC"},
  "encoding": {"x": {"datum": "c1", "type": "nominal", "axis": null}, "y": {"field": "k", "type": "nominal", "axis": null}, "text": {"field": "n", "type": "nominal"}}},
 {"data": {"name": "ins"}, "mark": {"type": "text", "color": "#333", "fontSize": 13.5, "font": "Noto Sans"},
  "encoding": {"x": {"datum": "c1", "type": "nominal", "axis": null}, "y": {"field": "k", "type": "nominal", "axis": null}, "text": {"field": "n", "type": "nominal"}}}
]},
{"layer": [
 {"data": {"name": "ins"}, "mark": {"type": "rect", "stroke": "#f2c29a", "strokeWidth": 1},
  "encoding": {
   "x": {"datum": "c2", "type": "nominal", "scale": {"type": "band", "domain": ["c2"], "range": [125, 197], "paddingInner": 0, "paddingOuter": 0}, "axis": null},
   "y": {"field": "k", "type": "nominal", "scale": {"type": "band", "domain": ["H","外資","投信","自營商"], "range": [167, 256], "paddingInner": 0, "paddingOuter": 0}, "axis": null},
   "fill": {"condition": {"test": "datum.k == '投信'", "value": "#fdf0dc"}, "value": "white"}}},
 {"data": {"name": "ih"}, "mark": {"type": "rect", "color": "#b8131c", "stroke": "white", "strokeWidth": 1},
  "encoding": {"x": {"datum": "c2", "type": "nominal", "axis": null}, "y": {"field": "k", "type": "nominal", "axis": null}}},
 {"data": {"name": "ih"}, "mark": {"type": "text", "color": "white", "fontSize": 13.5, "fontWeight": "bold", "font": "Noto Sans CJK TC"},
  "encoding": {"x": {"datum": "c2", "type": "nominal", "axis": null}, "y": {"field": "k", "type": "nominal", "axis": null}, "text": {"field": "p", "type": "nominal"}}},
 {"data": {"name": "ins"}, "mark": {"type": "text", "color": "#333", "fontSize": 13.5, "font": "Noto Sans"},
  "encoding": {"x": {"datum": "c2", "type": "nominal", "axis": null}, "y": {"field": "k", "type": "nominal", "axis": null}, "text": {"field": "p", "type": "nominal"}}}
]}
]
},
{
"width": 510, "height": 63,
"view": {"fill": "white", "stroke": "#d6d6d6"},
"resolve": {"scale": {"y": "independent"}},
"layer": [
{"layer": [
 {"data": {"name": "ng"}, "mark": {"type": "rule", "color": "#dcdcdc", "strokeDash": [2, 2]},
  "encoding": {
   "x": {"datum": -1.5, "type": "quantitative", "scale": {"domain": [-16.135, 218.975], "nice": false, "zero": false}, "axis": null},
   "x2": {"datum": 198},
   "y": {"field": "n", "type": "quantitative", "scale": {"domain": [-2598, 2362], "nice": false, "zero": false}}}},
 {"data": {"name": "dg"}, "mark": {"type": "rule", "color": "#dcdcdc", "strokeDash": [2, 2]},
  "encoding": {
   "x": {"field": "i", "type": "quantitative", "axis": null},
   "y": {"datum": -2000, "type": "quantitative"},
   "y2": {"datum": 1000}}},
 {"data": {"name": "px"}, "mark": {"type": "bar", "width": 1.9},
  "encoding": {
   "x": {"field": "i", "type": "quantitative", "axis": null},
   "y": {"field": "f", "type": "quantitative",
         "axis": {"orient": "right", "offset": -41, "values": [1000,0,-1000,-2000], "tickCount": 30, "labelExpr": "'' + datum.value", "labelOverlap": false, "title": null, "labelColor": "#5858c8", "labelFontSize": 8.5, "labelFont": "Liberation Sans", "labelPadding": 1, "ticks": false, "domain": false, "grid": false, "minExtent": 0}},
   "y2": {"datum": 0},
   "color": {"datum": "外資買賣超", "scale": {"range": ["#3b78c3"]},
     "legend": {"orient": "none", "legendX": 160, "legendY": 6, "title": null, "symbolType": "M-1,-0.2H1V0.2H-1Z", "symbolSize": 324, "labelFontSize": 8, "labelColor": "#666", "labelFont": "Noto Sans CJK TC", "labelOffset": 4}}}},
 {"data": {"values": [{}]}, "mark": {"type": "rule", "color": "#333", "strokeWidth": 1.3},
  "encoding": {
   "x": {"datum": -0.8, "type": "quantitative", "axis": null},
   "x2": {"datum": 198.8},
   "y": {"datum": 0, "type": "quantitative"}}}
]},
{"data": {"name": "px"}, "mark": {"type": "line", "strokeWidth": 1.2},
 "encoding": {
  "x": {"field": "i", "type": "quantitative", "axis": null},
  "y": {"field": "r", "type": "quantitative", "scale": {"domain": [-7.75, 59.1], "nice": false, "zero": false},
        "axis": {"orient": "left", "offset": -25, "values": [0,20,40], "tickCount": 30, "labelOverlap": false, "title": null, "labelColor": "#e8706a", "labelFontSize": 8.5, "labelFont": "Liberation Sans", "labelPadding": 1, "ticks": false, "domain": false, "grid": false, "minExtent": 0}},
  "stroke": {"datum": "外資持股比率(%)", "scale": {"range": ["#f04848"]},
    "legend": {"orient": "none", "legendX": 262, "legendY": 6, "title": null, "symbolType": "stroke", "symbolSize": 324, "symbolStrokeWidth": 1.5, "labelFontSize": 8, "labelColor": "#666", "labelFont": "Noto Sans CJK TC", "labelOffset": 4}}}}
]
},
{
"width": 1, "height": 19,
"data": {"values": [{"t": "資料來源：CMoney"}]},
"mark": {"type": "text", "align": "left", "baseline": "middle", "dy": 1, "fontSize": 10, "color": "#222", "font": "Noto Sans CJK TC"},
"encoding": {"text": {"field": "t", "type": "nominal"}}
}
]
},
{
"spacing": 5,
"vconcat": [
{
"width": 267, "height": 24,
"view": {"fill": "#0d4b8c"},
"data": {"values": [{"t": "近期買賣超張數"}]},
"mark": {"type": "text", "color": "white", "fontSize": 17, "fontWeight": "bold", "font": "Noto Sans CJK TC", "dy": 1},
"encoding": {"text": {"field": "t", "type": "nominal"}}
},
{
"spacing": 0,
"hconcat": [
{
"width": 87, "height": 389,
"layer": [
{"data": {"name": "tb"}, "transform": [{"window": [{"op": "row_number", "as": "rn"}]}, {"filter": "datum.rn % 2 == 0"}], "mark": {"type": "rect", "color": "#fdf1df"},
 "encoding": {"y": {"field": "date", "type": "nominal", "scale": {"type": "band", "domain": ["H","2017/6/14","2017/6/13","2017/6/12","2017/6/9","2017/6/8","2017/6/7","2017/6/6","2017/6/5","2017/6/3","2017/6/2","2017/6/1","2017/5/31","2017/5/26","2017/5/25","2017/5/24","2017/5/23","2017/5/22"], "paddingInner": 0, "paddingOuter": 0}, "axis": null}}},
{"data": {"name": "th"}, "mark": {"type": "rect", "color": "#b8131c", "stroke": "white", "strokeWidth": 1},
 "encoding": {"y": {"field": "row", "type": "nominal", "axis": null}}},
{"data": {"name": "th"}, "mark": {"type": "text", "color": "white", "fontSize": 13, "fontWeight": "bold", "font": "Noto Sans CJK TC"},
 "encoding": {"y": {"field": "row", "type": "nominal", "axis": null}, "text": {"field": "c0", "type": "nominal"}}},
{"data": {"name": "tb"}, "mark": {"type": "text", "color": "#333", "fontSize": 14.5, "font": "Noto Sans"},
 "encoding": {"y": {"field": "date", "type": "nominal", "axis": null}, "text": {"field": "date", "type": "nominal"}}}
]
},
{
"width": 60, "height": 389,
"layer": [
{"data": {"name": "tb"}, "transform": [{"window": [{"op": "row_number", "as": "rn"}]}, {"filter": "datum.rn % 2 == 0"}], "mark": {"type": "rect", "color": "#fdf1df"},
 "encoding": {"y": {"field": "date", "type": "nominal", "scale": {"type": "band", "domain": ["H","2017/6/14","2017/6/13","2017/6/12","2017/6/9","2017/6/8","2017/6/7","2017/6/6","2017/6/5","2017/6/3","2017/6/2","2017/6/1","2017/5/31","2017/5/26","2017/5/25","2017/5/24","2017/5/23","2017/5/22"], "paddingInner": 0, "paddingOuter": 0}, "axis": null}}},
{"data": {"values": [{}]}, "mark": {"type": "rule", "color": "#f2c2a6", "strokeWidth": 1.2},
 "encoding": {"x": {"datum": 0, "type": "quantitative", "scale": {"domain": [0, 1]}, "axis": null}}},
{"data": {"name": "th"}, "mark": {"type": "rect", "color": "#b8131c", "stroke": "white", "strokeWidth": 1},
 "encoding": {"y": {"field": "row", "type": "nominal", "axis": null}}},
{"data": {"name": "th"}, "mark": {"type": "text", "color": "white", "fontSize": 13, "fontWeight": "bold", "font": "Noto Sans CJK TC"},
 "encoding": {"y": {"field": "row", "type": "nominal", "axis": null}, "text": {"field": "c1", "type": "nominal"}}},
{"data": {"name": "tb"}, "mark": {"type": "text", "color": "#333", "fontSize": 14.5, "font": "Noto Sans"},
 "encoding": {"y": {"field": "date", "type": "nominal", "axis": null}, "text": {"field": "fi", "type": "nominal"}}}
]
},
{
"width": 59, "height": 389,
"layer": [
{"data": {"name": "tb"}, "transform": [{"window": [{"op": "row_number", "as": "rn"}]}, {"filter": "datum.rn % 2 == 0"}], "mark": {"type": "rect", "color": "#fdf1df"},
 "encoding": {"y": {"field": "date", "type": "nominal", "scale": {"type": "band", "domain": ["H","2017/6/14","2017/6/13","2017/6/12","2017/6/9","2017/6/8","2017/6/7","2017/6/6","2017/6/5","2017/6/3","2017/6/2","2017/6/1","2017/5/31","2017/5/26","2017/5/25","2017/5/24","2017/5/23","2017/5/22"], "paddingInner": 0, "paddingOuter": 0}, "axis": null}}},
{"data": {"values": [{}]}, "mark": {"type": "rule", "color": "#f2c2a6", "strokeWidth": 1.2},
 "encoding": {"x": {"datum": 0, "type": "quantitative", "scale": {"domain": [0, 1]}, "axis": null}}},
{"data": {"name": "th"}, "mark": {"type": "rect", "color": "#b8131c", "stroke": "white", "strokeWidth": 1},
 "encoding": {"y": {"field": "row", "type": "nominal", "axis": null}}},
{"data": {"name": "th"}, "mark": {"type": "text", "color": "white", "fontSize": 13, "fontWeight": "bold", "font": "Noto Sans CJK TC"},
 "encoding": {"y": {"field": "row", "type": "nominal", "axis": null}, "text": {"field": "c2", "type": "nominal"}}},
{"data": {"name": "tb"}, "mark": {"type": "text", "color": "#333", "fontSize": 14.5, "font": "Noto Sans"},
 "encoding": {"y": {"field": "date", "type": "nominal", "axis": null}, "text": {"field": "it", "type": "nominal"}}}
]
},
{
"width": 61, "height": 389,
"layer": [
{"data": {"name": "tb"}, "transform": [{"window": [{"op": "row_number", "as": "rn"}]}, {"filter": "datum.rn % 2 == 0"}], "mark": {"type": "rect", "color": "#fdf1df"},
 "encoding": {"y": {"field": "date", "type": "nominal", "scale": {"type": "band", "domain": ["H","2017/6/14","2017/6/13","2017/6/12","2017/6/9","2017/6/8","2017/6/7","2017/6/6","2017/6/5","2017/6/3","2017/6/2","2017/6/1","2017/5/31","2017/5/26","2017/5/25","2017/5/24","2017/5/23","2017/5/22"], "paddingInner": 0, "paddingOuter": 0}, "axis": null}}},
{"data": {"values": [{}]}, "mark": {"type": "rule", "color": "#f2c2a6", "strokeWidth": 1.2},
 "encoding": {"x": {"datum": 0, "type": "quantitative", "scale": {"domain": [0, 1]}, "axis": null}}},
{"data": {"name": "th"}, "mark": {"type": "rect", "color": "#b8131c", "stroke": "white", "strokeWidth": 1},
 "encoding": {"y": {"field": "row", "type": "nominal", "axis": null}}},
{"data": {"name": "th"}, "mark": {"type": "text", "color": "white", "fontSize": 13, "fontWeight": "bold", "font": "Noto Sans CJK TC"},
 "encoding": {"y": {"field": "row", "type": "nominal", "axis": null}, "text": {"field": "c3", "type": "nominal"}}},
{"data": {"name": "tb"}, "mark": {"type": "text", "color": "#333", "fontSize": 14.5, "font": "Noto Sans"},
 "encoding": {"y": {"field": "date", "type": "nominal", "axis": null}, "text": {"field": "dl", "type": "nominal"}}}
]
}
]
}
]
}
]
}
